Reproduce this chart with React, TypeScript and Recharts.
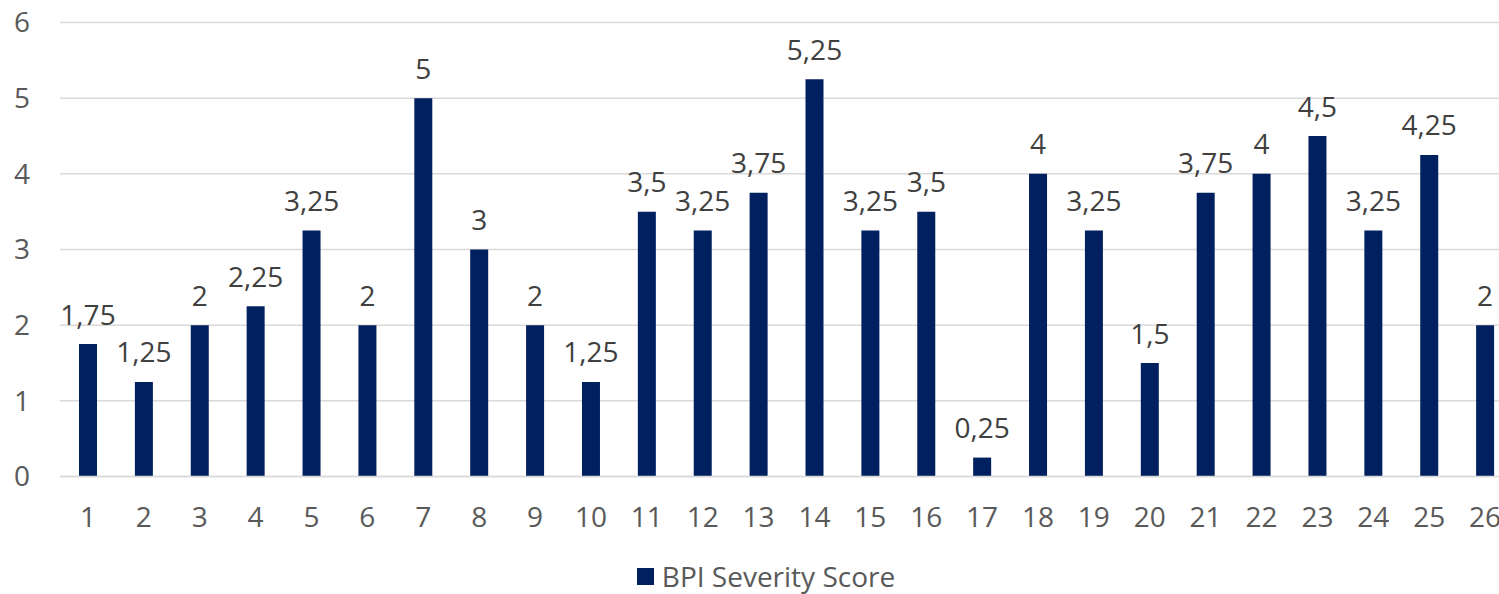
import React from 'react';
import { BarChart, Bar, XAxis, YAxis, CartesianGrid, Legend, LabelList } from 'recharts';

const patients = ['1', '2', '3', '4', '5', '6', '7', '8', '9', '10', '11', '12', '13', '14', '15', '16', '17', '18', '19', '20', '21', '22', '23', '24', '25', '26'];
const severity = [1.75, 1.25, 2, 2.25, 3.25, 2, 5, 3, 2, 1.25, 3.5, 3.25, 3.75, 5.25, 3.25, 3.5, 0.25, 4, 3.25, 1.5, 3.75, 4, 4.5, 3.25, 4.25, 2];
const yTicks = [0, 1, 2, 3, 4, 5, 6];

const seriesName = 'BPI Severity Score';
const barColor = '#002060';
const font = '"Open Sans", sans-serif';
const fontSize = 28;

const chartData = patients.map((p, i) => ({ name: p, score: severity[i] }));

// decimal comma, as in the source report
const fmt = (v: number) => String(v).replace('.', ',');

const LegendBox = () => (
    <div style={{ display: 'flex', justifyContent: 'center', alignItems: 'center', height: 30, fontFamily: font, fontSize, lineHeight: '30px', color: '#595959' }}>
        <span style={{ display: 'inline-block', width: 17, height: 17, background: barColor, marginRight: 8 }} />
        <span>{seriesName}</span>
    </div>
);

export default function App() {
    return (
        <div style={{ position: 'fixed', left: 0, top: 0, width: 1499, height: 594, overflow: 'hidden', background: '#fff' }}>
            <BarChart
                width={1520}
                height={594}
                data={chartData}
                margin={{ top: 22.5, right: 7, left: 0, bottom: 3 }}
            >
                <CartesianGrid vertical={false} stroke="#d9d9d9" strokeWidth={1.5} />
                <XAxis
                    dataKey="name"
                    height={84.5}
                    tickLine={false}
                    axisLine={{ stroke: '#d9d9d9', strokeWidth: 1.5 }}
                    tickSize={0}
                    tickMargin={30.5}
                    interval={0}
                    tick={{ fill: '#595959', fontSize, fontFamily: font }}
                />
                <YAxis
                    width={60}
                    domain={[0, 6]}
                    ticks={yTicks}
                    axisLine={false}
                    tickLine={false}
                    tickSize={0}
                    tickMargin={30}
                    tick={{ fill: '#595959', fontSize, fontFamily: font }}
                />
                <Legend verticalAlign="bottom" content={<LegendBox />} wrapperStyle={{ left: 6, width: 1520 }} />
                <Bar dataKey="score" name={seriesName} fill={barColor} barSize={18} isAnimationActive={false}>
                    <LabelList
                        dataKey="score"
                        position="top"
                        offset={19.5}
                        formatter={(v: number) => fmt(v)}
                        style={{ fill: '#404040', fontSize, fontFamily: font }}
                    />
                </Bar>
            </BarChart>
        </div>
    );
}
